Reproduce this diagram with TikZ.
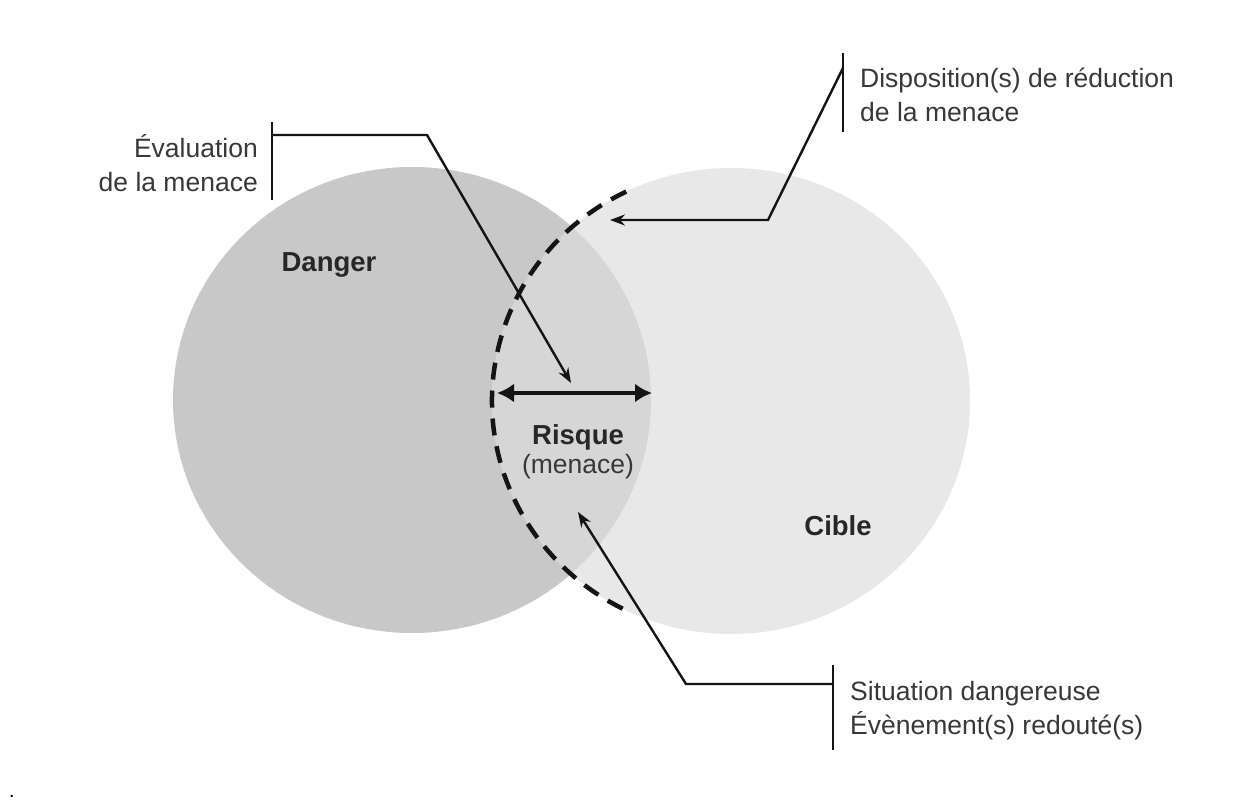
\documentclass[tikz,border=0pt]{standalone}
\usepackage{fontspec}
\setmainfont{Liberation Sans}
\usetikzlibrary{arrows.meta}

\definecolor{dangerfill}{gray}{0.785}
\definecolor{overlapfill}{gray}{0.840}
\definecolor{ciblefill}{gray}{0.910}
\definecolor{inkline}{gray}{0.08}
\definecolor{inktext}{gray}{0.22}

\tikzset{
  lbl/.style={inner sep=0pt, text=inktext, font=\fontsize{26.5}{34}\selectfont},
  title/.style={inner sep=0pt, text=inktext!70!black, font=\fontsize{27.5}{34}\selectfont\bfseries},
  bracket/.style={draw=inkline, line width=2.6pt},
  leader/.style={draw=inkline, line width=2.4pt, line join=miter,
    -{Stealth[length=15pt,width=11pt,inset=5pt]}},
  span/.style={draw=inkline, line width=4pt,
    {Latex[length=17pt,width=19pt]}-{Latex[length=17pt,width=19pt]}},
  edge dash/.style={draw=inkline, line width=4.5pt, dash pattern=on 17pt off 11pt},
}

\begin{document}
\begin{tikzpicture}[x=1pt, y=-1pt]
  \useasboundingbox (0,0) rectangle (1257,800);
  \fill[white] (0,0) rectangle (1257,800);

  % the two sets
  \fill[dangerfill] (412,400) ellipse [x radius=239, y radius=233];
  \fill[ciblefill] (731,401) ellipse [x radius=239, y radius=233];
  \begin{scope}
    \clip (731,401) ellipse [x radius=239, y radius=233];
    \fill[overlapfill] (412,400) ellipse [x radius=239, y radius=233];
  \end{scope}

  % dashed left boundary of the target
  \draw[edge dash] (731,401) ++(-116:239 and 233)
    arc[start angle=-116, end angle=-244, x radius=239, y radius=233];

  % set titles
  \node[title] (danger) at (329,265) {Danger};
  \node[title] (cible) at (838,526) {Cible};
  \node[title] (risque) at (578,437) {Risque};
  \node[lbl, anchor=north] (menace) at (risque.south) [yshift=-4pt] {(menace)};

  % width of the overlap
  \coordinate (spanL) at (497,393);
  \coordinate (spanR) at (652,393);
  \draw[span] (spanL) -- (spanR);

  % threat assessment
  \node[lbl, anchor=east, align=right] (evaltxt) at (258,163) {Évaluation\\de la menace};
  \coordinate (evalTop) at (272,122);
  \coordinate (evalBot) at (272,200);
  \coordinate (evalJoin) at (272,135);
  \coordinate (evalBend) at (427,135);
  \coordinate (evalTip) at (571,383);
  \draw[bracket] (evalTop) -- (evalBot);
  \draw[leader] (evalJoin) -- (evalBend) -- (evalTip);

  % threat reduction measures
  \node[lbl, anchor=west, align=left] (disptxt) at (860,95) {Disposition(s) de réduction\\de la menace};
  \coordinate (dispTop) at (843,53);
  \coordinate (dispBot) at (843,132);
  \coordinate (dispJoin) at (843,68);
  \coordinate (dispBend) at (768,220);
  \coordinate (dispTip) at (610,220);
  \draw[bracket] (dispTop) -- (dispBot);
  \draw[leader] (dispJoin) -- (dispBend) -- (dispTip);

  % dangerous situation / feared events
  \node[lbl, anchor=west, align=left] (sittxt) at (850,711) {Situation dangereuse\\Évènement(s) redouté(s)};
  \coordinate (sitTop) at (833,665);
  \coordinate (sitBot) at (833,750);
  \coordinate (sitJoin) at (833,684);
  \coordinate (sitBend) at (686,684);
  \coordinate (sitTip) at (578,512);
  \draw[bracket] (sitTop) -- (sitBot);
  \draw[leader] (sitJoin) -- (sitBend) -- (sitTip);

  % trailing full stop
  \node[lbl, text=black, font=\fontsize{20}{24}\selectfont, anchor=base west] (stop) at (9,797) {.};
\end{tikzpicture}
\end{document}
